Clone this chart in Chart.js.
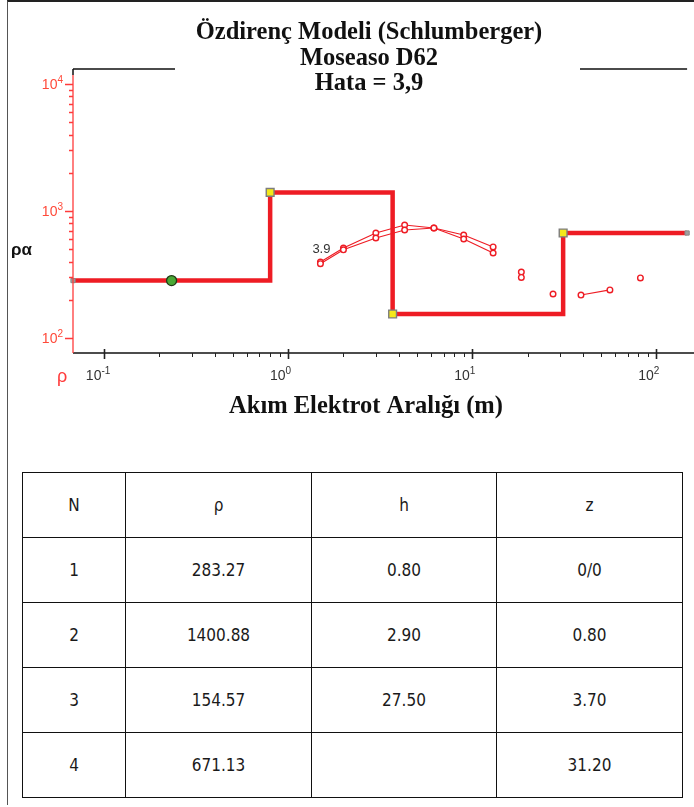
<!DOCTYPE html>
<html>
<head>
<meta charset="utf-8">
<script src="https://cdn.jsdelivr.net/npm/chart.js@4/dist/chart.umd.min.js"></script>
<style>
  html, body { margin: 0; padding: 0; background: #fff; }
  body { width: 694px; height: 807px; position: relative; overflow: hidden; }
  #frame { position: absolute; left: 7px; top: 0; width: 700px; height: 805px;
           border-top: 2px solid #222; border-left: 1px solid #555; box-sizing: border-box; }
  #wrap { position: absolute; left: 0; top: 0; width: 694px; height: 440px; }
  table { position: absolute; left: 22px; top: 472px; width: 660px; height: 326px;
          border-collapse: collapse; table-layout: fixed;
          font-family: "DejaVu Sans", Verdana, sans-serif; font-stretch: condensed;
          font-size: 17px; color: #1a1a1a; }
  td { border: 1.5px solid #111; text-align: center; vertical-align: middle; padding: 0; }
</style>
</head>
<body>
<div id="frame"></div>
<div id="wrap"><canvas id="c" width="694" height="440"></canvas></div>
<table id="tbl"></table>
<script>
// Layered resistivity model (Schlumberger inversion)
const layerN   = [1, 2, 3, 4];
const layerRho = [283.27, 1400.88, 154.57, 671.13];
const layerH   = ['0.80', '2.90', '27.50', ''];
const layerZ   = ['0/0', '0.80', '3.70', '31.20'];
const boundaryDepths = [0.80, 3.70, 31.20];

// Apparent resistivity readings (AB/2 in m, rho_a in ohm-m)
const spacingMain = [1.5, 2, 3, 4.3, 6.2, 9, 13];
const rhoMainA    = [396, 511, 671, 776, 735, 647, 521];
const rhoMainB    = [385, 495, 613, 709, 735, 602, 467];
const spacingTail = [39, 56];
const rhoTail     = [218, 239];
const spacingLone = [18.5, 18.5, 27.5, 82];
const rhoLone     = [331, 300, 222, 297];

const xTicks = [0.1, 1, 10, 100];
const yTicks = [100, 1000, 10000];
const fitError = '3,9';

const X_MIN = 0.068, X_MAX = 147, Y_MIN = 76.2, Y_MAX = 13130;

// table
const tbl = document.getElementById('tbl');
const head = ['N', 'ρ', 'h', 'z'];
let html = '<colgroup><col style="width:103px"><col style="width:186px"><col style="width:185px"><col style="width:186px"></colgroup>';
html += '<tr>' + head.map(h => '<td>' + h + '</td>').join('') + '</tr>';
layerN.forEach((n, i) => {
  html += '<tr><td>' + n + '</td><td>' + layerRho[i].toFixed(2) + '</td><td>' + layerH[i] + '</td><td>' + layerZ[i] + '</td></tr>';
});
tbl.innerHTML = html;

// step model curve
const stepPts = [{x: X_MIN, y: layerRho[0]}];
boundaryDepths.forEach((d, i) => {
  stepPts.push({x: d, y: layerRho[i]});
  stepPts.push({x: d, y: layerRho[i + 1]});
});
stepPts.push({x: X_MAX, y: layerRho[layerRho.length - 1]});
const cornerPts = boundaryDepths.map((d, i) => ({x: d, y: layerRho[i + 1]}));
const handlePt = [{x: Math.sqrt(X_MIN * boundaryDepths[0]), y: layerRho[0]}];
const endPts = [{x: X_MIN, y: layerRho[0]}, {x: X_MAX, y: layerRho[layerRho.length - 1]}];

const zip = (xs, ys) => xs.map((x, i) => ({x, y: ys[i]}));
const RED = '#ee1c24';

const dataStyle = {
  showLine: true, borderColor: RED, borderWidth: 1.2, pointRadius: 2.8,
  pointBorderColor: RED, pointBackgroundColor: '#fff', pointBorderWidth: 1.4
};

function sup(ctx, base, exp, x, y, size, expSize, align) {
  ctx.font = size + 'px "Liberation Sans", Arial, sans-serif';
  const wb = ctx.measureText(base).width;
  ctx.font = expSize + 'px "Liberation Sans", Arial, sans-serif';
  const we = ctx.measureText(exp).width;
  let x0 = align === 'right' ? x - wb - we : x;
  ctx.textAlign = 'left';
  ctx.textBaseline = 'middle';
  ctx.font = size + 'px "Liberation Sans", Arial, sans-serif';
  ctx.fillText(base, x0, y);
  ctx.font = expSize + 'px "Liberation Sans", Arial, sans-serif';
  ctx.fillText(exp, x0 + wb, y - 5);
}

const overlay = {
  id: 'overlay',
  afterDraw(chart) {
    const {ctx, chartArea: a, scales: {x, y}} = chart;
    ctx.save();
    // top frame line, broken by the title
    ctx.strokeStyle = '#111'; ctx.lineWidth = 1.5;
    ctx.beginPath();
    ctx.moveTo(a.left, a.top); ctx.lineTo(175, a.top);
    ctx.moveTo(580, a.top); ctx.lineTo(a.right, a.top);
    ctx.moveTo(a.left, a.top); ctx.lineTo(a.left, a.top + 6);
    ctx.stroke();
    // bottom axis
    ctx.beginPath();
    ctx.moveTo(a.left, a.bottom); ctx.lineTo(694, a.bottom);
    ctx.stroke();
    // left axis in red
    ctx.strokeStyle = '#ff3b3b'; ctx.lineWidth = 1.3;
    ctx.beginPath();
    ctx.moveTo(a.left, a.top + 6); ctx.lineTo(a.left, a.bottom);
    ctx.stroke();
    // y ticks
    ctx.beginPath();
    for (let d = 100; d < 10000; d *= 10) {
      for (let m = 1; m <= 9; m++) {
        const py = Math.round(y.getPixelForValue(d * m)) + 0.5;
        ctx.moveTo(a.left, py); ctx.lineTo(a.left - (m === 1 ? 8 : 4), py);
      }
    }
    const pTop = Math.round(y.getPixelForValue(10000)) + 0.5;
    ctx.moveTo(a.left, pTop); ctx.lineTo(a.left - 8, pTop);
    ctx.stroke();
    // x ticks
    ctx.strokeStyle = '#222'; ctx.lineWidth = 1;
    ctx.beginPath();
    for (let d = 0.1; d < 200; d *= 10) {
      for (let m = 2; m <= 9; m++) {
        const v = d * m;
        if (v > X_MAX) break;
        const px = Math.round(x.getPixelForValue(v)) + 0.5;
        ctx.moveTo(px, a.bottom); ctx.lineTo(px, a.bottom + 4);
      }
    }
    ctx.stroke();
    ctx.lineWidth = 1.6;
    ctx.beginPath();
    xTicks.forEach(v => {
      const px = Math.round(x.getPixelForValue(v)) + 0.5;
      ctx.moveTo(px, a.bottom - 4); ctx.lineTo(px, a.bottom + 6);
    });
    ctx.stroke();

    // tick labels
    ctx.fillStyle = '#ff4a3a';
    yTicks.forEach(v => {
      const py = y.getPixelForValue(v);
      sup(ctx, '10', String(Math.round(Math.log10(v))), a.left - 10, py + 1, 14, 10, 'right');
    });
    ctx.fillStyle = '#333';
    xTicks.forEach(v => {
      const px = x.getPixelForValue(v);
      sup(ctx, '10', String(Math.round(Math.log10(v))), px - 18, a.bottom + 23, 14, 10, 'left');
    });

    // axis names
    ctx.fillStyle = '#ff3b3b';
    ctx.font = '18px "Liberation Sans", Arial, sans-serif';
    ctx.textAlign = 'center'; ctx.textBaseline = 'middle';
    ctx.fillText('ρ', 62, a.bottom + 24);
    ctx.fillStyle = '#111';
    ctx.font = 'bold 17px "Liberation Sans", Arial, sans-serif';
    ctx.textAlign = 'left';
    ctx.fillText('ρα', 11, 250);

    // titles
    ctx.textAlign = 'center';
    ctx.font = 'bold 24.5px "Liberation Serif", "Times New Roman", serif';
    ctx.fillText('Özdirenç Modeli (Schlumberger)', 369, 33);
    ctx.fillText('Moseaso D62', 369, 59);
    ctx.fillText('Hata = ' + fitError, 369, 84);
    ctx.fillText('Akım Elektrot Aralığı (m)', 366, 407);

    // misfit tag beside the first reading
    ctx.fillStyle = '#333';
    ctx.font = '13px "Liberation Sans", Arial, sans-serif';
    ctx.fillText(fitError.replace(',', '.'), x.getPixelForValue(spacingMain[0]) + 1, y.getPixelForValue(rhoMainA[0]) - 13);
    ctx.restore();
  }
};

new Chart(document.getElementById('c'), {
  type: 'scatter',
  data: {
    datasets: [
      {data: handlePt, showLine: false, pointStyle: 'circle', pointRadius: 5,
       pointBackgroundColor: '#4aa835', pointBorderColor: '#1f3a16', pointBorderWidth: 1.3, clip: false},
      {data: cornerPts, showLine: false, pointStyle: 'rect', pointRadius: 5.5,
       pointBackgroundColor: '#f4e81a', pointBorderColor: '#7d7d7d', pointBorderWidth: 1.4, clip: false},
      {data: endPts, showLine: false, pointStyle: 'rect', pointRadius: 3,
       pointBackgroundColor: '#a0a0a0', pointBorderColor: '#888', clip: false},
      {data: stepPts, showLine: true, borderColor: RED, borderWidth: 4.5, pointRadius: 0,
       borderJoinStyle: 'miter', tension: 0},
      Object.assign({data: zip(spacingMain, rhoMainB)}, dataStyle),
      Object.assign({data: zip(spacingMain, rhoMainA)}, dataStyle),
      Object.assign({data: zip(spacingTail, rhoTail)}, dataStyle),
      Object.assign({data: zip(spacingLone, rhoLone)}, dataStyle, {showLine: false})
    ]
  },
  options: {
    responsive: false, animation: false, events: [],
    layout: {padding: {left: 73, top: 69, right: 4, bottom: 87}},
    scales: {
      x: {type: 'logarithmic', min: X_MIN, max: X_MAX, display: false},
      y: {type: 'logarithmic', min: Y_MIN, max: Y_MAX, display: false}
    },
    plugins: {legend: {display: false}, tooltip: {enabled: false}, title: {display: false}}
  },
  plugins: [overlay]
});
</script>
</body>
</html>
